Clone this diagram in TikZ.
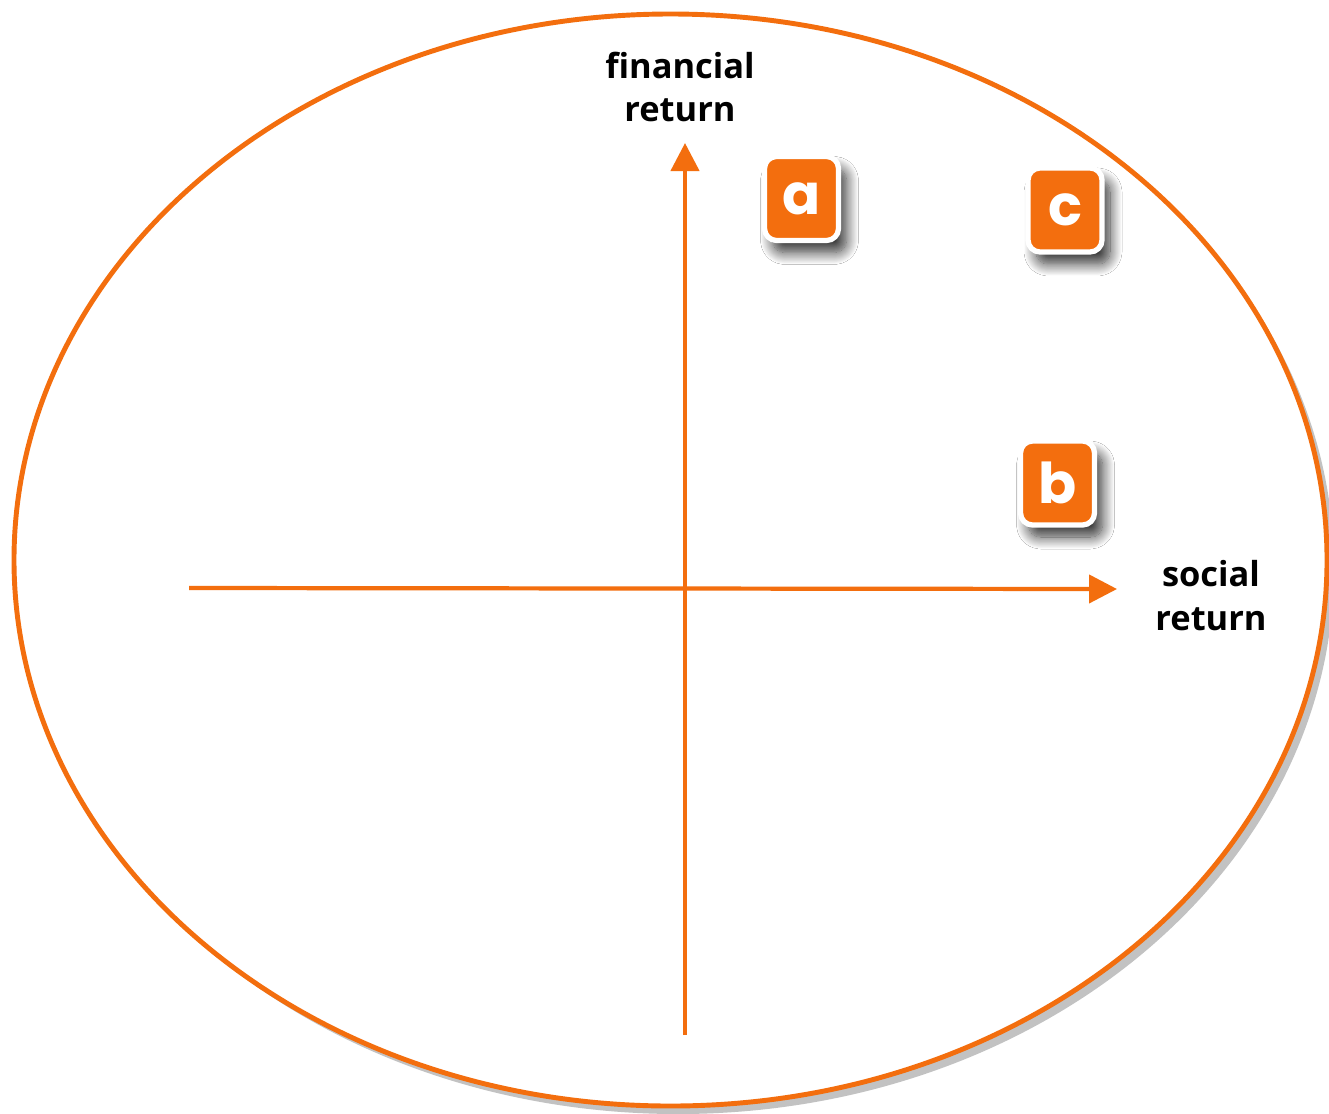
\documentclass[tikz,border=0pt]{standalone}
\usepackage{fontspec}
\setmainfont{Open Sans}
\newfontfamily\boxfont{Poppins}
\usepackage{tikz}
\usetikzlibrary{arrows.meta, shadows.blur}
\definecolor{returnorange}{RGB}{243,110,14}

\tikzset{
  axis/.style={line width=1.2pt, returnorange, -{Triangle[length=0.28cm,width=0.28cm]}},
  marker/.style={fill=returnorange, draw=white, line width=1.5pt, rounded corners=0.12cm,
    minimum width=0.74cm, minimum height=0.84cm, text=white,
    font=\boxfont\bfseries\fontsize{16}{16}\selectfont,
    blur shadow={shadow xshift=0.08cm, shadow yshift=-0.12cm, shadow blur radius=0.12cm,
      shadow blur steps=15, shadow opacity=80}},
  label/.style={align=center, font=\bfseries\fontsize{9.8}{12.5}\selectfont}
}

\begin{document}
\begin{tikzpicture}
    \useasboundingbox (0,0) rectangle (13.29,11.13);

    \fill[black!40, opacity=0.6] (6.78,5.45) ellipse (6.56 and 5.46);
    \fill[white] (6.705,5.53) ellipse (6.565 and 5.46);
    \draw[line width=1.4pt, returnorange] (6.705,5.53) ellipse (6.565 and 5.46);

    \coordinate (xstart) at (1.89,5.25);
    \coordinate (xend) at (11.17,5.24);
    \coordinate (ystart) at (6.85,0.78);
    \coordinate (yend) at (6.85,9.70);

    \draw[axis] (xstart) -- (xend);
    \draw[axis] (ystart) -- (yend);

    \node[label] (social) at (12.11,5.17) {social\\return};
    \node[label] (financial) at (6.80,10.26) {financial\\return};

    \node[marker] (a) at (8.015,9.145) {a};
    \node[marker] (c) at (10.65,9.03) {c};
    \node[marker] (b) at (10.575,6.30) {b};
\end{tikzpicture}
\end{document}
